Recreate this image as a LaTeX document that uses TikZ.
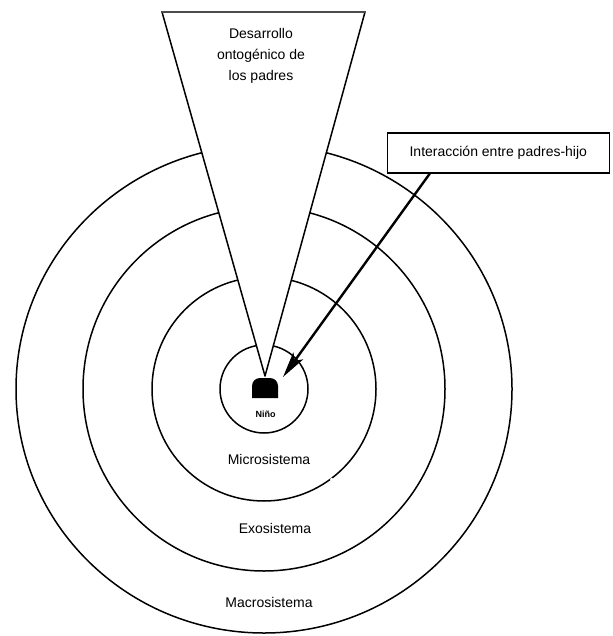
\documentclass[tikz,border=0pt]{standalone}
\usepackage{fontspec}
\setmainfont{Liberation Sans}
\usetikzlibrary{arrows.meta,calc}
\begin{document}
\begin{tikzpicture}[x=1pt,y=-1pt,
  ring/.style={draw=black,line width=1.5pt},
  lbl/.style={font=\fontsize{14}{21}\selectfont,inner sep=0pt,align=center},
  conn/.style={line width=2.4pt,-{Stealth[length=26pt,width=12pt,inset=6pt]}}]
\useasboundingbox (0,0) rectangle (612,636);
\fill[white] (0,0) rectangle (612,636);
\coordinate (c) at (264,389);
% rings
\draw[ring] (c) ellipse[x radius=248,y radius=244];
\draw[ring] (c) ellipse[x radius=181,y radius=182];
\draw[ring] (c) circle[radius=112];
\draw[ring] (c) circle[radius=44];
% small gap in the microsistema ring
\fill[white] (331.7,479.3) circle[radius=1.8];
% cone
\fill[white] (162,12) -- (365,12) -- (265,376) -- cycle;
\draw[line width=1.5pt,line join=round] (162,12) -- (265,376) -- (365,12);
\draw[line width=2.6pt,gray!60!black] (161,12) -- (366,12);
% child
\fill (252,398) [rounded corners=8pt] -- (252,378) -- (278,378) [sharp corners] -- (278,398) -- cycle;
\node[font=\bfseries\fontsize{9}{10}\selectfont,inner sep=0pt] (nino) at (265.5,414) {Niño};
% labels
\node[lbl] (padres) at (261,56) {Desarrollo\\ontogénico de\\los padres};
\node[lbl] (micro) at (269,459) {Microsistema};
\node[lbl] (exo) at (275,528) {Exosistema};
\node[lbl] (macro) at (269,602) {Macrosistema};
% box and arrow
\node[draw,line width=1.2pt,minimum width=222pt,minimum height=40pt,inner sep=0pt,
  font=\fontsize{14}{17}\selectfont] (box) at (498.3,153) {Interacción entre padres-hijo};
\coordinate (tip) at (283,377);
\draw[conn] ($(box.south west)!0.193!(box.south east)$) -- (tip);
\end{tikzpicture}
\end{document}
